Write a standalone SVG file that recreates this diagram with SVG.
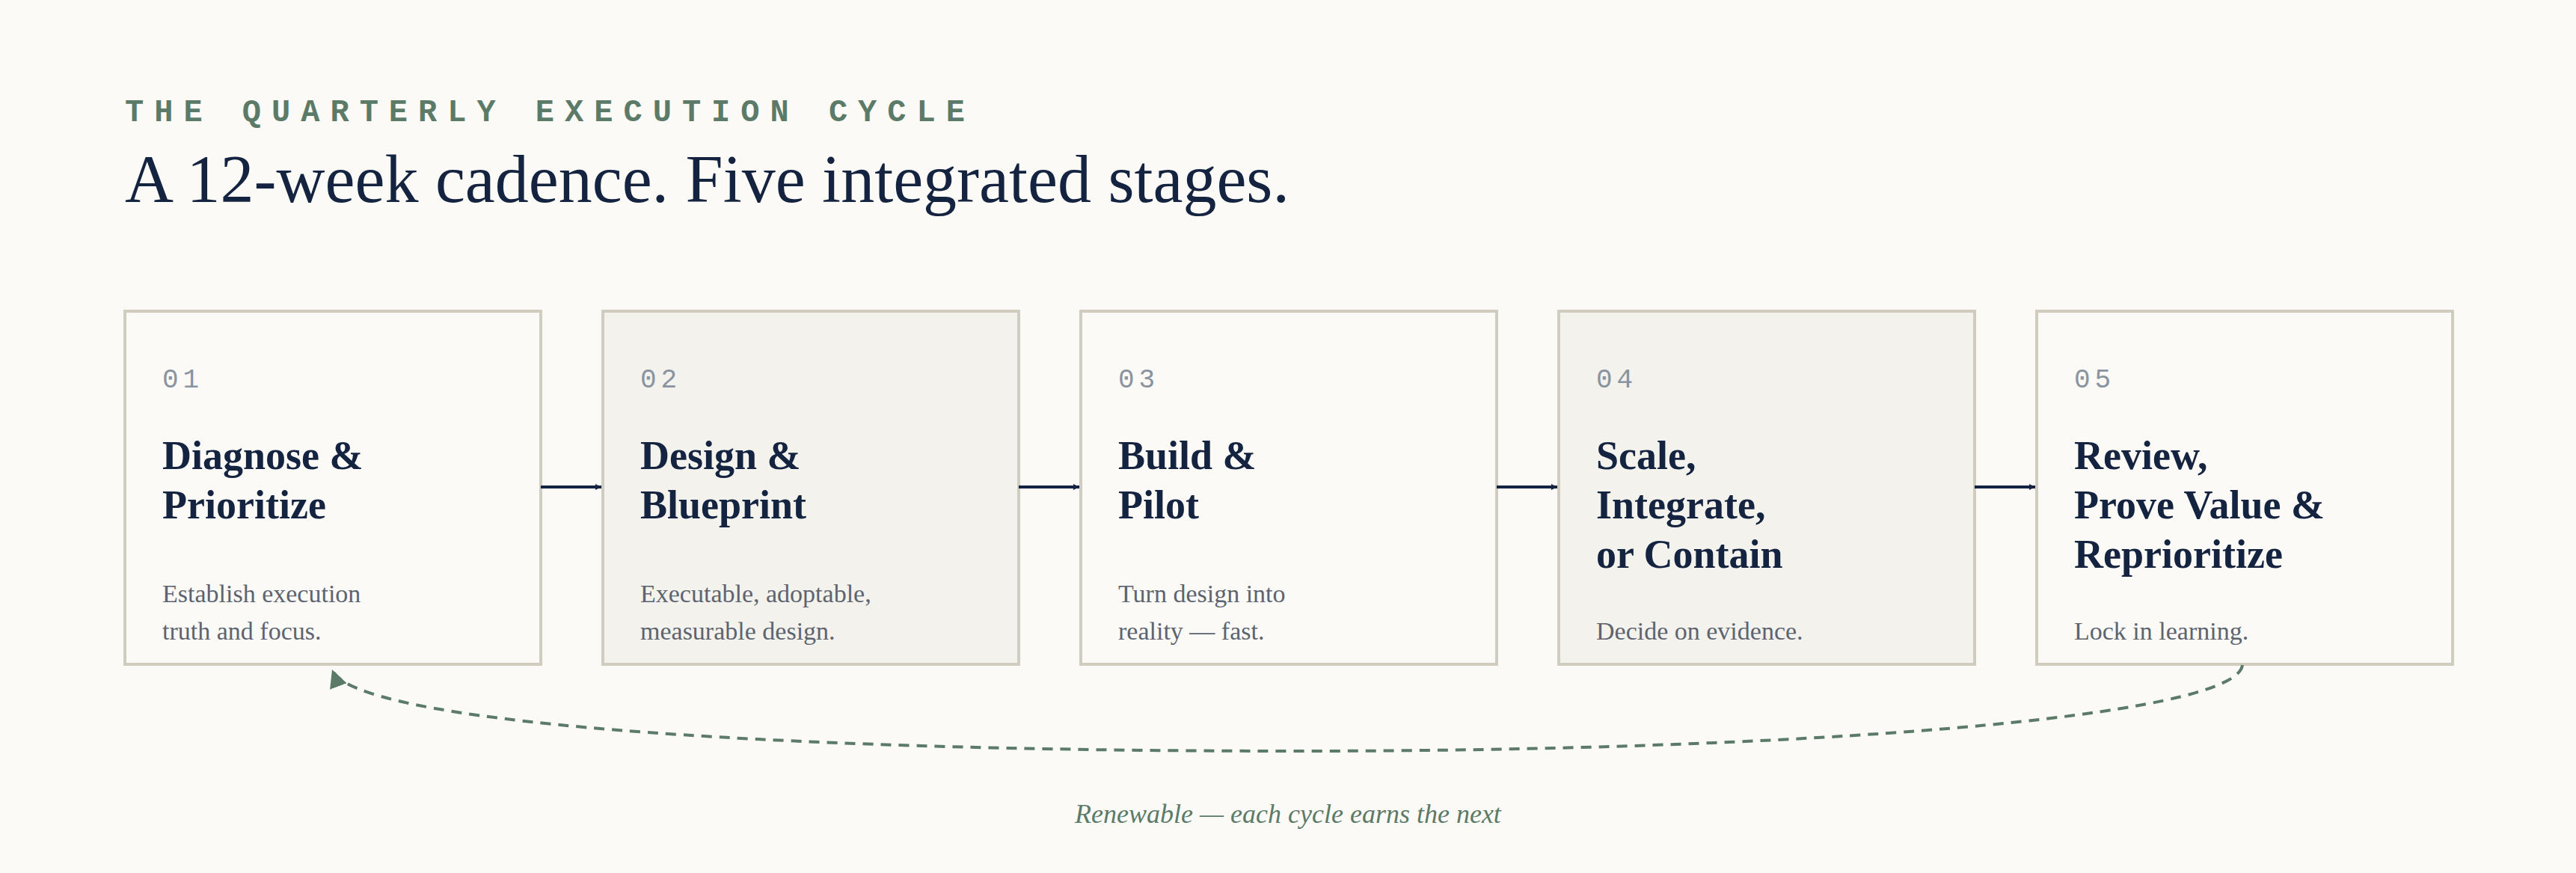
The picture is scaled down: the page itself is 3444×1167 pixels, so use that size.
<svg xmlns="http://www.w3.org/2000/svg" width="3444" height="1167" viewBox="0 0 3444 1167">
<style>
.box{stroke:#d0ccc0;stroke-width:4}
.lt{fill:#fbfaf6}.dk{fill:#f3f2ed}
.num{font-family:"Liberation Mono",monospace;font-size:36px;fill:#8a93a0;letter-spacing:6px}
.ttl{font-family:"Liberation Serif",serif;font-weight:bold;font-size:54px;fill:#14233f}
.dsc{font-family:"Liberation Serif",serif;font-size:34px;fill:#5d6470}
.arr{stroke:#14233f;stroke-width:4;fill:none}
</style>
<defs>
<marker id="ah" viewBox="0 0 10 10" refX="10" refY="5" markerWidth="8" markerHeight="8" markerUnits="userSpaceOnUse" orient="auto"><path d="M0,0 L10,5 L0,10 Z" fill="#14233f"/></marker>
<marker id="ag" viewBox="0 0 10 10" refX="10" refY="5" markerWidth="6" markerHeight="6" orient="auto"><path d="M0,0 L10,5 L0,10 Z" fill="#5b7a68"/></marker>
</defs>
<rect width="3444" height="1167" fill="#fbfaf6"/>
<text x="167" y="162" font-family="Liberation Mono,monospace" font-weight="bold" font-size="42" fill="#5b7a68" letter-spacing="14">THE QUARTERLY EXECUTION CYCLE</text>
<text x="167" y="270" font-family="Liberation Serif,serif" font-size="90" fill="#14233f">A 12-week cadence. Five integrated stages.</text>
<g id="n1"><rect class="box lt" x="167" y="416" width="556" height="472"/><text class="num" x="217" y="518">01</text><text class="ttl" x="217" y="627">Diagnose &amp;</text><text class="ttl" x="217" y="693">Prioritize</text><text class="dsc" x="217" y="805">Establish execution</text><text class="dsc" x="217" y="855">truth and focus.</text></g>
<g id="n2"><rect class="box dk" x="806" y="416" width="556" height="472"/><text class="num" x="856" y="518">02</text><text class="ttl" x="856" y="627">Design &amp;</text><text class="ttl" x="856" y="693">Blueprint</text><text class="dsc" x="856" y="805">Executable, adoptable,</text><text class="dsc" x="856" y="855">measurable design.</text></g>
<g id="n3"><rect class="box lt" x="1445" y="416" width="556" height="472"/><text class="num" x="1495" y="518">03</text><text class="ttl" x="1495" y="627">Build &amp;</text><text class="ttl" x="1495" y="693">Pilot</text><text class="dsc" x="1495" y="805">Turn design into</text><text class="dsc" x="1495" y="855">reality — fast.</text></g>
<g id="n4"><rect class="box dk" x="2084" y="416" width="556" height="472"/><text class="num" x="2134" y="518">04</text><text class="ttl" x="2134" y="627">Scale,</text><text class="ttl" x="2134" y="693">Integrate,</text><text class="ttl" x="2134" y="759">or Contain</text><text class="dsc" x="2134" y="855">Decide on evidence.</text></g>
<g id="n5"><rect class="box lt" x="2723" y="416" width="556" height="472"/><text class="num" x="2773" y="518">05</text><text class="ttl" x="2773" y="627">Review,</text><text class="ttl" x="2773" y="693">Prove Value &amp;</text><text class="ttl" x="2773" y="759">Reprioritize</text><text class="dsc" x="2773" y="855">Lock in learning.</text></g>
<g id="connectors">
<path class="arr" d="M723 651 H804" marker-end="url(#ah)"/>
<path class="arr" d="M1362 651 H1443" marker-end="url(#ah)"/>
<path class="arr" d="M2001 651 H2082" marker-end="url(#ah)"/>
<path class="arr" d="M2640 651 H2721" marker-end="url(#ah)"/>
<path d="M2998 889 C2990 960 2400 1004 1735 1004 C1000 1004 470 965 444 895" fill="none" stroke="#5b7a68" stroke-width="4" stroke-dasharray="14 10" marker-end="url(#ag)"/>
</g>
<text x="1722" y="1100" text-anchor="middle" font-family="Liberation Serif,serif" font-style="italic" font-size="36" fill="#5b7a68">Renewable — each cycle earns the next</text>
</svg>
